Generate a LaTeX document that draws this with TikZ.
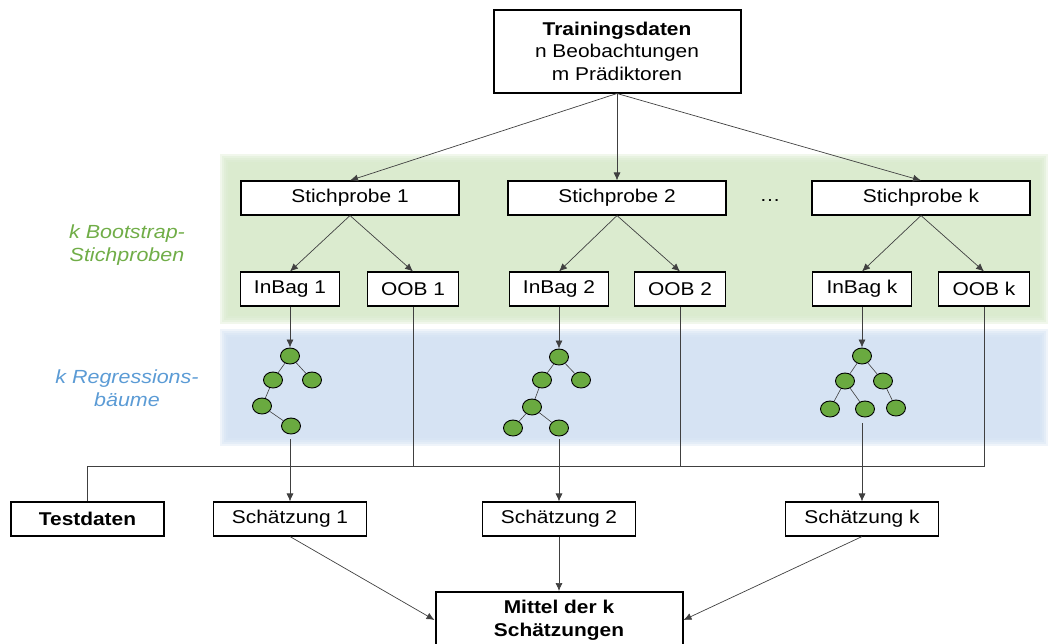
\documentclass[tikz,border=0pt]{standalone}
\usepackage{fontspec}
\setmainfont{Liberation Sans}[FakeStretch=1.13]
\usetikzlibrary{shapes.geometric,arrows.meta}

\definecolor{bandgreen}{RGB}{214,232,201}
\definecolor{bandblue}{RGB}{208,223,241}
\definecolor{txtgreen}{RGB}{112,173,71}
\definecolor{txtblue}{RGB}{91,155,213}
\definecolor{leafgreen}{RGB}{106,170,64}
\definecolor{linegray}{RGB}{64,64,64}

\begin{document}
\begin{tikzpicture}[x=1pt,y=-1pt,
    nodes={font=\fontsize{18.5}{22.5}\selectfont},
    box/.style={draw, fill=white, line width=1.1pt, minimum height=34pt, inner sep=0pt},
    mainbox/.style={box, line width=2pt, font=\fontsize{18.5}{22.5}\selectfont\bfseries},
    leaf/.style={ellipse, draw, line width=0.9pt, fill=leafgreen,
      minimum width=19pt, minimum height=16pt, inner sep=0pt},
    link/.style={draw=linegray, line width=0.7pt},
    arr/.style={link, -{Latex[length=8pt,width=7pt]}},
    sidetext/.style={align=center, font=\fontsize{19}{23}\selectfont\itshape}]
  \useasboundingbox (0,0) rectangle (1050,643);

  % soft coloured bands
  \foreach \d in {0,2,4,6,8} {
    \fill[bandgreen, opacity=0.35] (220+\d,154+\d) rectangle (1048-\d,324-\d);
    \fill[bandblue, opacity=0.35] (220+\d,329+\d) rectangle (1048-\d,446-\d);
  }
  \node[sidetext, txtgreen] (lblboot) at (127,245) {k Bootstrap-\\Stichproben};
  \node[sidetext, txtblue] (lbltree) at (127,388) {k Regressions-\\bäume};

  \node[box, line width=2pt, minimum width=247pt, minimum height=83pt, align=center]
    (train) at (617,51) {\textbf{Trainingsdaten}\\n Beobachtungen\\m Prädiktoren};

  % one column per bootstrap sample
  \foreach \i/\x/\xin/\xoob in {1/350/290/413, 2/617/559/680, k/921/862/984} {
    \node[box, minimum width=218pt] (s\i) at (\x,198) {Stichprobe \i};
    \node[box, minimum width=99pt] (in\i) at (\xin,289) {InBag \i};
    \node[box, minimum width=91pt] (oob\i) at (\xoob,289) {OOB \i};
    \node[box, minimum width=153pt] (est\i) at (\xin,519) {Schätzung \i};
    \draw[arr] (train.south) -- (s\i.north);
    \draw[arr] (s\i.south) -- (in\i.north);
    \draw[arr] (s\i.south) -- (oob\i.north);
  }
  \node (dots) at (770,201) {\dots};

  % tree 1
  \node[leaf] (t1r) at (290,356) {};
  \node[leaf] (t1a) at (273,380) {};
  \node[leaf] (t1b) at (312,380) {};
  \node[leaf] (t1c) at (262,406) {};
  \node[leaf] (t1d) at (291,426) {};
  \coordinate (t1out) at (290,439);
  % tree 2
  \node[leaf] (t2r) at (559,357) {};
  \node[leaf] (t2a) at (542,380) {};
  \node[leaf] (t2b) at (581,380) {};
  \node[leaf] (t2c) at (532,407) {};
  \node[leaf] (t2d) at (513,428) {};
  \node[leaf] (t2e) at (559,428) {};
  \coordinate (t2out) at (559,439);
  % tree k
  \node[leaf] (tkr) at (862,356) {};
  \node[leaf] (tka) at (845,381) {};
  \node[leaf] (tkb) at (883,381) {};
  \node[leaf] (tkc) at (830,409) {};
  \node[leaf] (tkd) at (865,409) {};
  \node[leaf] (tke) at (896,408) {};
  \coordinate (tkout) at (862,423);

  \foreach \a/\b in {t1r/t1a, t1r/t1b, t1a/t1c, t1c/t1d,
      t2r/t2a, t2r/t2b, t2a/t2c, t2c/t2d, t2c/t2e,
      tkr/tka, tkr/tkb, tka/tkc, tka/tkd, tkb/tke}
    \draw[link, line width=0.6pt] (\a) -- (\b);

  \foreach \i in {1,2,k} {
    \draw[arr] (in\i.south) -- (t\i r.north);
    \draw[arr] (t\i out) -- (est\i.north);
  }

  % out-of-bag samples go to the test data
  \node[mainbox, minimum width=153pt] (test) at (87.5,519) {Testdaten};
  \coordinate (bus) at (0,466);
  \draw[link] (test.north) |- (bus -| oobk.south) -- (oobk.south);
  \draw[link] (oob1.south) -- (oob1.south |- bus);
  \draw[link] (oob2.south) -- (oob2.south |- bus);

  \node[mainbox, minimum width=247pt, minimum height=56pt, align=center]
    (mean) at (559,620) {Mittel der k\\Schätzungen};
  \draw[arr] (est1.south) -- (mean.west);
  \draw[arr] (est2.south) -- (mean.north);
  \draw[arr] (estk.south) -- (mean.east);
\end{tikzpicture}
\end{document}
